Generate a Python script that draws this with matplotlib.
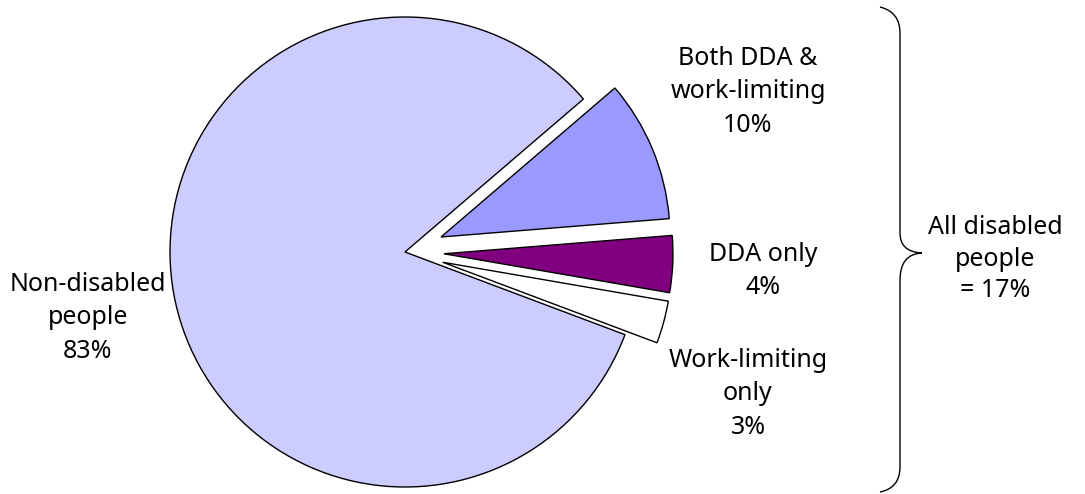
import matplotlib.pyplot as plt
from matplotlib.path import Path
from matplotlib.patches import PathPatch

plt.rcParams['font.family'] = ['Noto Sans', 'DejaVu Sans']

# data
categories = ['Work-limiting only', 'DDA only', 'Both DDA & work-limiting', 'Non-disabled people']
shares = [3, 4, 10, 83]
colors = ['#FFFFFF', '#800080', '#9999FF', '#CCCCFF']
explode_px = [39, 39, 39, 0]
labels = ['Work-limiting\nonly\n3%', 'DDA only\n4%', 'Both DDA &\nwork-limiting\n10%', 'Non-disabled\npeople\n83%']
label_pos = [(748, 394), (763, 271), (748, 92), (88, 318)]
total_label = 'All disabled\npeople\n= 17%'

W, H = 1085, 494
fig = plt.figure(figsize=(W / 100, H / 100), dpi=100)
ax = fig.add_axes([0, 0, 1, 1])

# pie, centre and radius in pixel units (y up)
wedges, _ = ax.pie(shares, colors=colors, explode=explode_px, startangle=-20.6,
                   counterclock=True, center=(405, H - 252), radius=235, frame=True,
                   wedgeprops=dict(edgecolor='black', linewidth=1.0))
# exploded slices are drawn a little smaller in the original
for w, e in zip(wedges, explode_px):
    if e:
        w.set_radius(229)

ax.set_xlim(0, W)
ax.set_ylim(0, H)
ax.set_aspect('auto')
ax.axis('off')

for txt, (x, y) in zip(labels, label_pos):
    ax.text(x, H - y, txt, ha='center', va='center', fontsize=18, linespacing=1.45)

ax.text(995, H - 259, total_label, ha='center', va='center', fontsize=18, linespacing=1.35)

# curly brace
verts = [(880, 7), (900, 12), (900, 33),
         (900, 233),
         (900, 252), (922, 253),
         (900, 254), (900, 280),
         (900, 467),
         (900, 488), (880, 492)]
codes = [Path.MOVETO, Path.CURVE3, Path.CURVE3,
         Path.LINETO,
         Path.CURVE3, Path.CURVE3,
         Path.CURVE3, Path.CURVE3,
         Path.LINETO,
         Path.CURVE3, Path.CURVE3]
verts = [(x, H - y) for x, y in verts]
ax.add_patch(PathPatch(Path(verts, codes), facecolor='none', edgecolor='black', linewidth=1.0))

fig.savefig('out.png', dpi=100)
